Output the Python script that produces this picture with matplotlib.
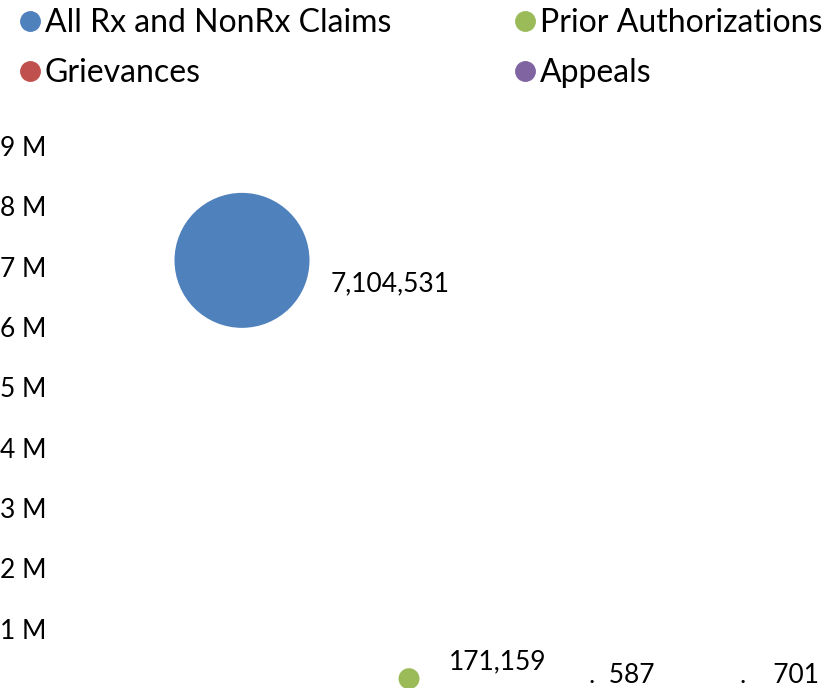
import numpy as np
import matplotlib.pyplot as plt
from matplotlib.lines import Line2D
from matplotlib.ticker import FuncFormatter

plt.rcParams['font.family'] = ['Lato', 'DejaVu Sans']

# data
names = ['All Rx and NonRx Claims', 'Prior Authorizations', 'Grievances', 'Appeals']
values = [7104531, 171159, 587, 701]
x_pos = [1, 2, 3, 4]
colors = ['#4F81BD', '#9BBB59', '#C0504D', '#8064A2']
label_text = ['7,104,531', '171,159', '.  587', '.    701']
# label offsets in points from bubble centre
label_off = [(64, -17), (29, 12), (9, 10), (-2, 10)]

fig = plt.figure(figsize=(8.3, 6.88), dpi=100)
ax = fig.add_axes([55 / 830, -1 / 688, 775 / 830, 543 / 688])

# bubble area proportional to value, largest one ~135 px across
max_d = 135 * 0.72
sizes = np.array(values) / max(values) * max_d ** 2
ax.scatter(x_pos, values, s=sizes, c=colors, linewidths=0, zorder=3, clip_on=False)

for x, v, t, off in zip(x_pos, values, label_text, label_off):
    ax.annotate(t, (x, v), xytext=off, textcoords='offset points',
                ha='left', va='center', fontsize=19, color='#000000')

ax.set_xlim(1 - 187 / 167, 1 + 588 / 167)
ax.set_ylim(0, 9e6)
ax.set_yticks([1e6, 2e6, 3e6, 4e6, 5e6, 6e6, 7e6, 8e6, 9e6])
ax.yaxis.set_major_formatter(FuncFormatter(lambda v, p: '%d M' % round(v / 1e6)))
ax.tick_params(axis='y', length=0, pad=6, labelsize=19)
ax.set_xticks([])
for s in ax.spines.values():
    s.set_visible(False)

handles = [Line2D([], [], marker='o', ls='', color=c, markersize=14) for c in colors]
order = [0, 2, 1, 3]
fig.legend([handles[i] for i in order], [names[i] for i in order], ncol=2,
           loc='upper left', bbox_to_anchor=(0.004, 1.007), frameon=False,
           fontsize=23, handletextpad=0.0, handlelength=0.9,
           columnspacing=3.75, labelspacing=0.62, borderaxespad=0)

fig.savefig('out.png', dpi=100)
